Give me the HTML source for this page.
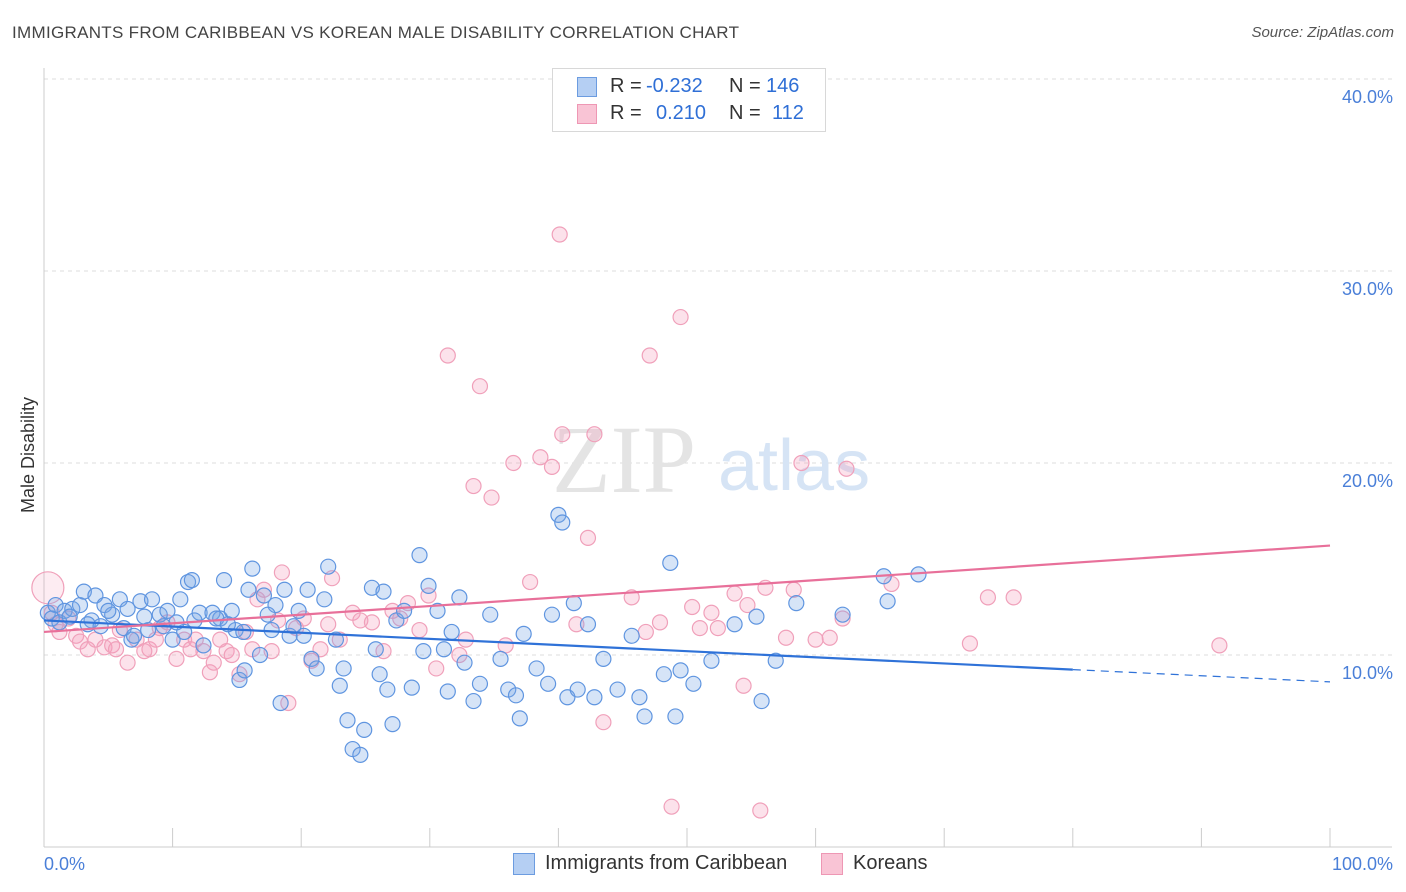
<!DOCTYPE html>
<html><head><meta charset="utf-8">
<style>
body{margin:0;background:#fff;font-family:"Liberation Sans",sans-serif;}
#wrap{position:relative;width:1406px;height:892px;overflow:hidden;}
.t{position:absolute;white-space:nowrap;}
</style></head>
<body>
<div id="wrap">
<div class="t" style="left:12px;top:23px;font-size:17px;color:#444;letter-spacing:0.3px">IMMIGRANTS FROM CARIBBEAN VS KOREAN MALE DISABILITY CORRELATION CHART</div>
<div class="t" style="right:12px;top:24px;font-size:15px;color:#555;font-style:italic">Source: ZipAtlas.com</div>
<svg id="svg" width="1406" height="892" style="position:absolute;left:0;top:0"></svg>
</div>
<script>
const xTicks=[0,10,20,30,40,50,60,70,80,90,100];
const yTicks=[10,20,30,40];
const blueX=[0.3,0.9,1.6,2.2,2.8,3.1,3.7,4.0,4.7,5.3,5.9,6.5,6.8,7.5,8.1,8.4,9.0,9.6,10.0,10.6,10.9,11.2,11.5,12.1,12.4,13.1,13.7,14.0,14.6,14.9,15.2,15.6,15.9,16.2,16.8,17.1,17.7,18.0,18.4,18.7,19.1,19.8,20.2,20.5,20.8,21.2,21.8,22.1,22.7,23.0,23.3,23.6,24.0,24.6,24.9,25.5,25.8,26.1,26.4,26.7,27.1,27.4,28.0,28.6,29.2,29.5,29.9,30.6,31.1,31.4,31.7,32.3,32.7,33.4,33.9,34.7,35.5,36.1,36.7,37.0,37.3,38.3,39.2,39.5,40.0,40.3,40.7,41.2,41.5,42.3,42.8,43.5,44.6,45.7,46.3,46.7,48.2,48.7,49.1,49.5,50.5,51.9,53.7,55.4,55.8,56.9,58.5,62.1,65.3,65.6,68.0,0.6,1.2,2.0,3.4,4.4,5.0,6.2,7.0,7.8,9.3,10.3,11.7,13.4,14.3,15.5,17.4,19.4];
const blueY=[12.2,12.6,12.3,12.4,12.6,13.3,11.8,13.1,12.6,12.1,12.9,12.4,10.8,12.8,11.3,12.9,12.1,12.3,10.8,12.9,11.2,13.8,13.9,12.2,10.5,12.2,11.9,13.9,12.3,11.3,8.7,9.2,13.4,14.5,10.0,13.1,11.3,12.6,7.5,13.4,11.0,12.3,11.0,13.4,9.8,9.3,12.9,14.6,10.8,8.4,9.3,6.6,5.1,4.8,6.1,13.5,10.3,9.0,13.3,8.2,6.4,11.8,12.3,8.3,15.2,10.2,13.6,12.3,10.3,8.1,11.2,13.0,9.6,7.6,8.5,12.1,9.8,8.2,7.9,6.7,11.1,9.3,8.5,12.1,17.3,16.9,7.8,12.7,8.2,11.6,7.8,9.8,8.2,11.0,7.8,6.8,9.0,14.8,6.8,9.2,8.5,9.7,11.6,12.0,7.6,9.7,12.7,12.1,14.1,12.8,14.2,11.9,11.7,12.0,11.6,11.5,12.3,11.4,11.0,12.0,11.5,11.7,11.8,11.9,11.6,11.2,12.1,11.5];
const pinkX=[0.3,0.6,0.9,1.2,1.9,2.5,2.8,3.4,4.0,4.7,5.3,5.6,5.9,6.5,7.2,7.8,8.2,8.7,9.0,9.6,10.3,10.9,11.4,11.8,12.4,12.9,13.2,13.7,14.2,14.6,15.2,15.7,16.2,16.6,17.1,17.7,18.2,18.5,19.0,19.6,20.2,20.8,21.5,22.1,22.4,23.0,24.0,24.6,25.5,26.4,27.1,27.7,28.3,29.2,29.9,30.5,31.4,32.3,32.8,33.4,33.9,34.8,35.9,36.5,37.8,38.6,39.5,40.1,40.3,41.4,42.3,42.8,43.5,45.7,46.8,47.1,47.9,48.8,49.5,50.4,51.0,51.9,52.4,53.7,54.4,54.7,55.7,56.1,57.7,58.3,58.9,60.0,61.1,62.1,62.4,65.9,72.0,73.4,75.4,91.4];
const pinkY=[13.5,12.2,11.6,11.2,11.9,11.0,10.7,10.3,10.8,10.4,10.5,10.3,11.3,9.6,10.8,10.2,10.3,10.8,11.4,11.7,9.8,10.8,10.3,10.8,10.2,9.1,9.6,10.8,10.2,10.0,9.0,11.2,10.3,12.9,13.4,10.2,11.8,14.3,7.5,11.4,11.9,9.7,10.3,11.6,14.0,10.8,12.2,11.8,11.7,10.2,12.3,11.9,12.7,11.3,13.1,9.3,25.6,10.0,10.8,18.8,24.0,18.2,10.5,20.0,13.8,20.3,19.8,31.9,21.5,11.6,16.1,21.5,6.5,13.0,11.2,25.6,11.7,2.1,27.6,12.5,11.4,12.2,11.4,13.2,8.4,12.6,1.9,13.5,10.9,13.4,20.0,10.8,10.9,11.9,19.7,13.7,10.6,13.0,13.0,10.5];
const blueLine=[11.8,8.6];
const pinkLine=[11.2,15.7];

const NS="http://www.w3.org/2000/svg";
const svg=document.getElementById('svg');
const X0=44,X1=1330;
const sx=v=>X0+(X1-X0)*v/100;
const sy=v=>847-v*19.2;
function mk(tag,attrs,parent){const e=document.createElementNS(NS,tag);for(const k in attrs)e.setAttribute(k,attrs[k]);(parent||svg).appendChild(e);return e;}

yTicks.forEach(v=>{
 const g=mk('line',{x1:X0,x2:1392,y1:sy(v),y2:sy(v),stroke:'#dcdcdc','stroke-dasharray':'4,4'});
 
 
 const t=mk('text',{x:1393,y:sy(v)+24,'text-anchor':'end','font-size':18,fill:'#4a7fd8','font-family':'Liberation Sans, sans-serif'});
 t.textContent=v.toFixed(1)+'%';
 
 
});
const ax=mk('line',{x1:X0,x2:X0,y1:68,y2:847,stroke:'#cccccc'});


const bx=mk('line',{x1:X0,x2:1392,y1:847,y2:847,stroke:'#cccccc'});


xTicks.forEach(v=>{
 const tk=mk('line',{x1:sx(v),x2:sx(v),y1:828,y2:847,stroke:'#cccccc'});
 
 
});
[[0,'0.0%','start',44],[100,'100.0%','end',1393]].forEach(a=>{
 const t=mk('text',{x:a[3],y:870,'text-anchor':a[2],'font-size':18,fill:'#4a7fd8','font-family':'Liberation Sans, sans-serif'});
 t.textContent=a[1];
 
 
});
const yt=mk('text',{x:0,y:0,transform:'translate(34,455) rotate(-90)','text-anchor':'middle','font-size':18,fill:'#333','font-family':'Liberation Sans, sans-serif'});
yt.textContent='Male Disability';


const wm=mk('text',{x:552,y:492,'font-size':96,fill:'#e4e4e4','font-family':'Liberation Serif, serif'});
wm.textContent='ZIP';


const wm2=mk('text',{x:718,y:490,'font-size':72,fill:'#d6e4f5','font-family':'Liberation Sans, sans-serif'});
wm2.textContent='atlas';



pinkX.forEach((x,i)=>{
 const c=mk('circle',{cx:sx(x),cy:sy(pinkY[i]),r:i===0?16:7.5,fill:i===0?'rgba(244,160,188,0.2)':'rgba(244,160,188,0.3)',stroke:'#f0a0ba','stroke-width':1.2});
 
 
});
blueX.forEach((x,i)=>{
 const c=mk('circle',{cx:sx(x),cy:sy(blueY[i]),r:7.5,fill:'rgba(120,165,230,0.3)',stroke:'#5f95e0','stroke-width':1.2});
 
 
});
const bAt=v=>blueLine[0]+(blueLine[1]-blueLine[0])*v/100;
const l1=mk('line',{x1:sx(0),y1:sy(bAt(0)),x2:sx(80),y2:sy(bAt(80)),stroke:'#2f72d8','stroke-width':2.2});


const l2=mk('line',{x1:sx(80),y1:sy(bAt(80)),x2:sx(100),y2:sy(bAt(100)),stroke:'#2f72d8','stroke-width':1.2,'stroke-dasharray':'8,6'});


const l3=mk('line',{x1:sx(0),y1:sy(pinkLine[0]),x2:sx(100),y2:sy(pinkLine[1]),stroke:'#e8709a','stroke-width':2.2});


</script>
<div class="t" style="left:552px;top:68px;width:272px;height:62px;border:1px solid #d8d8d8;background:#fff;font-size:20px;color:#333">
 <div class="t" style="left:24px;top:8px;width:18px;height:18px;background:#b5cff3;border:1px solid #6c9ce0"></div>
 <div class="t" style="left:57px;top:6px">R =</div>
 <div class="t" style="left:93px;top:6px;color:#2f6fd6">-0.232</div>
 <div class="t" style="left:176px;top:6px">N =</div>
 <div class="t" style="left:213px;top:6px;color:#2f6fd6">146</div>
 <div class="t" style="left:24px;top:35px;width:18px;height:18px;background:#f9c4d5;border:1px solid #ee97b4"></div>
 <div class="t" style="left:57px;top:33px">R =</div>
 <div class="t" style="left:103px;top:33px;color:#2f6fd6">0.210</div>
 <div class="t" style="left:176px;top:33px">N =</div>
 <div class="t" style="left:219px;top:33px;color:#2f6fd6">112</div>
</div>
<div class="t" style="left:513px;top:853px;width:20px;height:20px;background:#b5cff3;border:1px solid #6c9ce0"></div>
<div class="t" style="left:545px;top:852px;font-size:20px;color:#333">Immigrants from Caribbean</div>
<div class="t" style="left:821px;top:853px;width:20px;height:20px;background:#f9c4d5;border:1px solid #ee97b4"></div>
<div class="t" style="left:853px;top:852px;font-size:20px;color:#333">Koreans</div>
</body></html>
